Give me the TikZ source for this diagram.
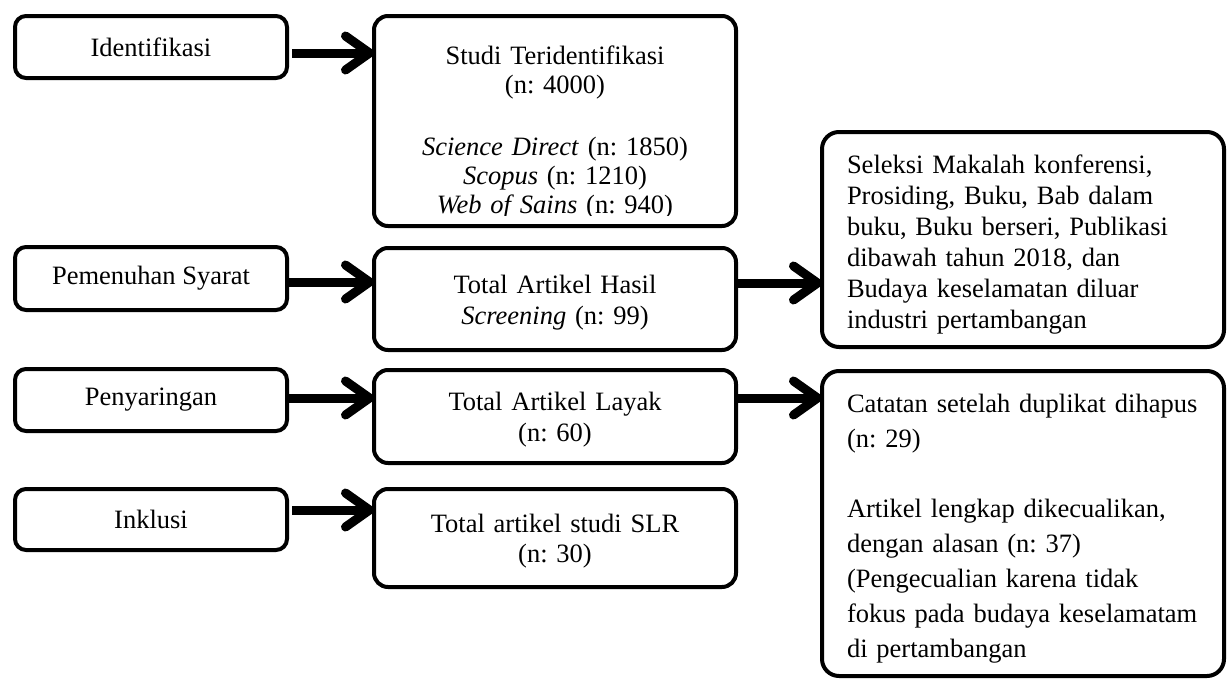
\documentclass[tikz,border=0pt]{standalone}
\usepackage{fontspec}
\setmainfont{Liberation Serif}
\usetikzlibrary{arrows.meta}
\frenchspacing
\begin{document}
\begin{tikzpicture}[x=1pt,y=-1pt,
  every node/.style={font=\fontsize{26.5}{31}\selectfont},
  leftbox/.style={draw,line width=4pt,rounded corners=11pt,minimum width=272pt,inner sep=0pt,outer sep=0pt},
  midbox/.style={draw,line width=4pt,rounded corners=14pt,minimum width=362pt,inner sep=0pt,outer sep=0pt},
  rightbox/.style={draw,line width=4pt,rounded corners=17pt,minimum width=402pt,inner sep=0pt,outer sep=0pt},
  ctext/.style={inner sep=0pt,outer sep=0pt,text width=360pt,align=center,anchor=base},
  ltext/.style={inner sep=0pt,outer sep=0pt,text width=352pt,align=left,anchor=base},
  arr/.style={line width=9pt,-{Straight Barb[length=24pt,width=34pt,round]}}
]
\useasboundingbox (0,0) rectangle (1228,680);
\fill[white] (0,0) rectangle (1228,680);

% left column
\node[leftbox,minimum height=62pt] (a1) at (151,47) {Identifikasi};
\node[leftbox,minimum height=63pt] (a2) at (151,278.5) {Pemenuhan Syarat};
\node[leftbox,minimum height=62pt] (a3) at (151,400) {Penyaringan};
\node[leftbox,minimum height=61pt] (a4) at (151,519.5) {Inklusi};

% middle column
\node[midbox,minimum height=210pt] (b1) at (555,121) {};
\node[midbox,minimum height=102pt] (b2) at (555,299) {};
\node[midbox,minimum height=93pt] (b3) at (555,416.5) {};
\node[midbox,minimum height=98pt] (b4) at (555,538) {};

% right column
\node[rightbox,minimum height=215pt] (c1) at (1023,239.5) {};
\node[rightbox,minimum height=305pt] (c2) at (1023,523.5) {};

% texts
\begin{scope}
\clip (374,16) rectangle (736,215);
\node[ctext,font=\fontsize{26.5}{29}\selectfont] (tb1) at (555,64)
  {Studi Teridentifikasi\\(n: 4000)\\[33pt]\textit{Science Direct} (n: 1850)\\\textit{Scopus} (n: 1210)\\\textit{Web of Sains} (n: 940)};
\end{scope}
\node[ctext] (tb2) at (555,293) {Total Artikel Hasil\\\textit{Screening} (n: 99)};
\node[ctext] (tb3) at (555,410) {Total Artikel Layak\\(n: 60)};
\node[ctext,font=\fontsize{26.5}{30}\selectfont] (tb4) at (555,532) {Total artikel studi SLR\\(n: 30)};

\node[ltext] (tc1) at (1023,173) {Seleksi Makalah konferensi,\\Prosiding, Buku, Bab dalam\\buku, Buku berseri, Publikasi\\dibawah tahun 2018, dan\\Budaya keselamatan diluar\\industri pertambangan};
\node[ltext,font=\fontsize{26.5}{35}\selectfont] (tc2) at (1023,412) {Catatan setelah duplikat dihapus\\(n: 29)\\[35pt]Artikel lengkap dikecualikan,\\dengan alasan (n: 37)\\(Pengecualian karena tidak\\fokus pada budaya keselamatam\\di pertambangan};

% arrows
\draw[arr,shorten <=5pt] (a1.east |- 0,53) -- (b1.west |- 0,53);
\draw[arr] (a2.east |- 0,282) -- (b2.west |- 0,282);
\draw[arr] (a3.east |- 0,398) -- (b3.west |- 0,398);
\draw[arr,shorten <=5pt] (a4.east |- 0,510) -- (b4.west |- 0,510);
\draw[arr] (b2.east |- 0,283) -- (c1.west |- 0,283);
\draw[arr] (b3.east |- 0,398) -- (c2.west |- 0,398);
\end{tikzpicture}
\end{document}
